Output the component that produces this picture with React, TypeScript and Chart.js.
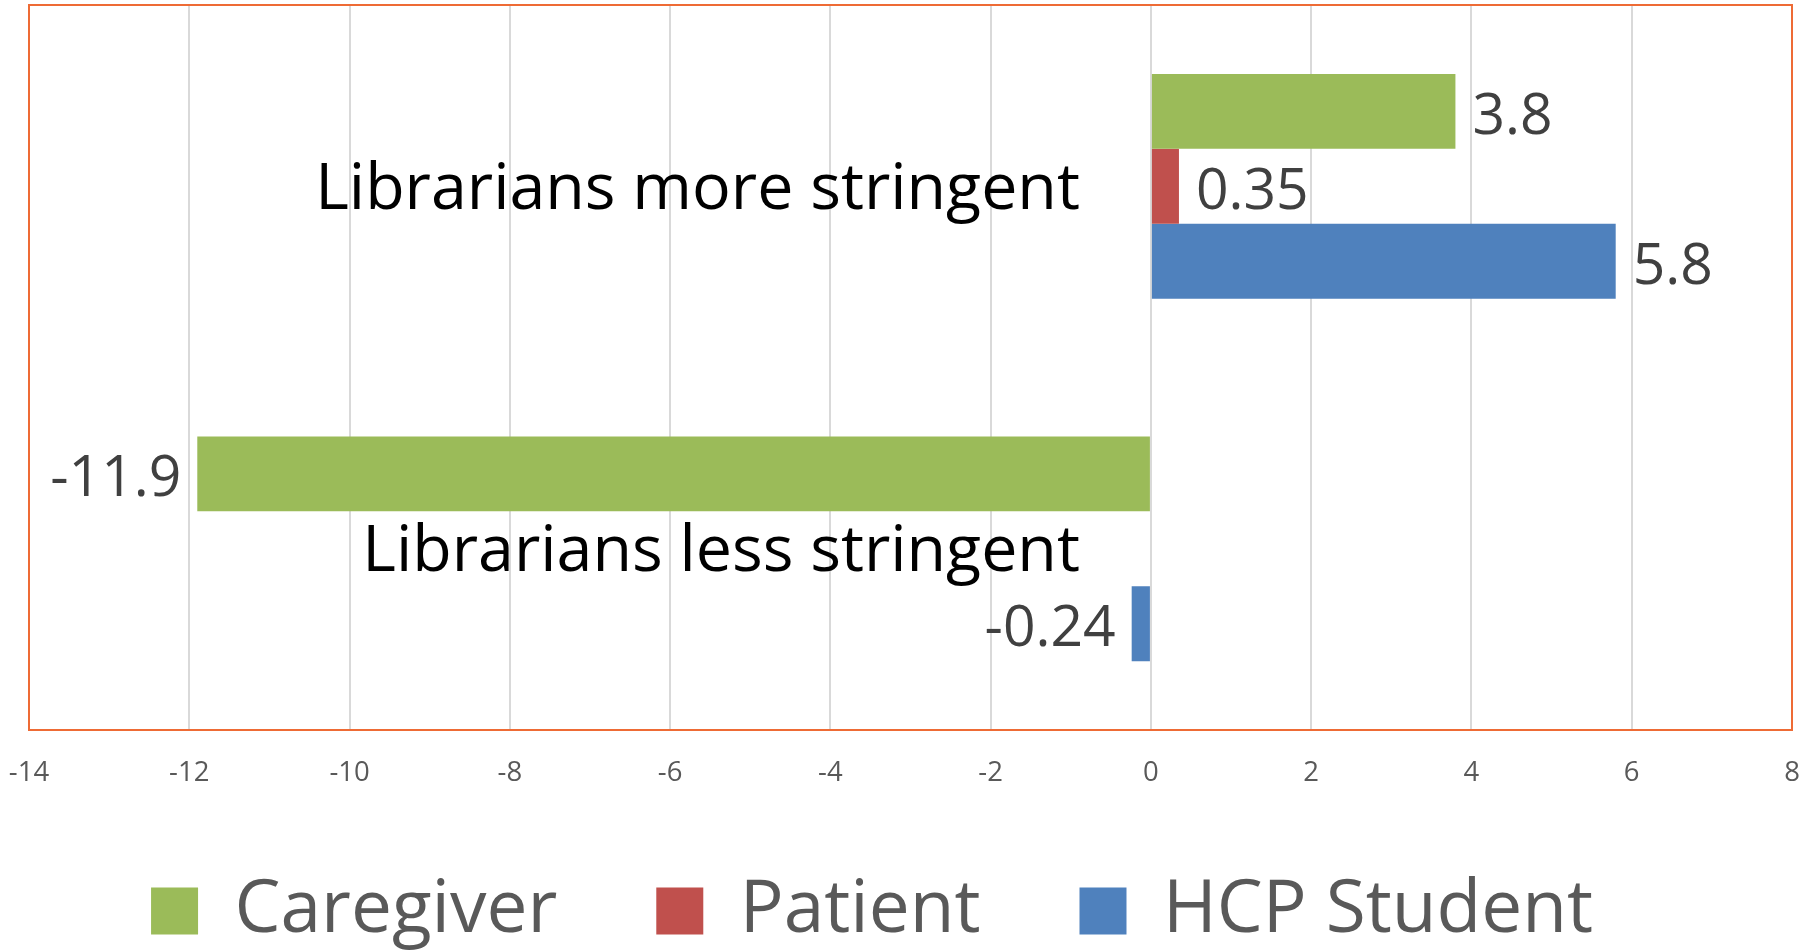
import React, { useEffect, useRef } from 'react';
import { Chart, registerables } from 'chart.js';

Chart.register(...registerables);

const categories = ['Librarians more stringent', 'Librarians less stringent'];
const seriesNames = ['Caregiver', 'Patient', 'HCP Student'];
const caregiverValues: (number | null)[] = [3.8, -11.9];
const patientValues: (number | null)[] = [0.35, null];
const hcpStudentValues: (number | null)[] = [5.8, -0.24];
const seriesColors = ['#9BBB59', '#C0504D', '#4F81BD'];
const xTickMin = -14;
const xTickMax = 8;
const xTickStep = 2;

const FONT = "'Open Sans', sans-serif";

const plotBorderPlugin = {
  id: 'plotBorder',
  beforeDatasetsDraw(chart: any) {
    const { ctx, chartArea } = chart;
    const { left, top, right, bottom } = chartArea;
    ctx.save();
    ctx.strokeStyle = '#EE6B35';
    ctx.lineWidth = 2;
    ctx.strokeRect(left, top, right - left, bottom - top);
    ctx.restore();
  },
};

const legendShiftPlugin = {
  id: 'legendShift',
  afterLayout(chart: any) {
    const lg = chart.legend;
    if (lg) {
      lg.left -= 24;
      lg.right -= 24;
    }
  },
};

const labelsPlugin = {
  id: 'customLabels',
  afterDatasetsDraw(chart: any) {
    const { ctx } = chart;
    const xScale = chart.scales.x;
    const yScale = chart.scales.y;
    ctx.save();
    // category labels next to the zero axis
    const catSize = 64.5;
    ctx.font = `${catSize}px ${FONT}`;
    ctx.fillStyle = '#000000';
    ctx.textAlign = 'right';
    ctx.textBaseline = 'alphabetic';
    const axisX = xScale.getPixelForValue(0);
    categories.forEach((c, i) => {
      const y = yScale.getPixelForValue(i);
      ctx.fillText(c, axisX - 71, y + 0.35 * catSize);
    });
    // data labels
    const valSize = 57;
    ctx.font = `${valSize}px ${FONT}`;
    ctx.fillStyle = '#404040';
    chart.data.datasets.forEach((ds: any, di: number) => {
      const meta = chart.getDatasetMeta(di);
      meta.data.forEach((bar: any, i: number) => {
        const v = ds.data[i];
        if (v === null || v === undefined) return;
        const by = bar.y + 2 + 0.357 * valSize;
        if (v >= 0) {
          ctx.textAlign = 'left';
          ctx.fillText(String(v), bar.x + 17, by);
        } else {
          ctx.textAlign = 'right';
          ctx.fillText(String(v), bar.x - 16, by);
        }
      });
    });
    ctx.restore();
  },
};

export default function App() {
  const canvasRef = useRef<HTMLCanvasElement | null>(null);

  useEffect(() => {
    document.body.style.margin = '0';
    const canvas = canvasRef.current;
    if (!canvas) return;
    const seriesValues = [caregiverValues, patientValues, hcpStudentValues];
    const chart = new Chart(canvas, {
      type: 'bar',
      data: {
        labels: categories,
        datasets: seriesNames.map((name, i) => ({
          label: name,
          data: seriesValues[i],
          backgroundColor: seriesColors[i],
          borderWidth: 0,
          barPercentage: 1,
          categoryPercentage: 0.62,
        })),
      },
      options: {
        indexAxis: 'y',
        responsive: false,
        animation: false,
        layout: { padding: { top: 5, left: 0, right: 22, bottom: 0 } },
        scales: {
          x: {
            type: 'linear',
            min: xTickMin,
            max: xTickMax,
            ticks: {
              stepSize: xTickStep,
              mirror: true,
              padding: -59.5,
              color: '#595959',
              font: { family: FONT, size: 27.5 },
            },
            grid: { color: '#D9D9D9', lineWidth: 2, drawTicks: false },
            border: { display: false },
            afterFit: (scale: any) => {
              scale.height = 45.5;
              scale.paddingLeft = 0;
              scale.paddingRight = 0;
            },
          },
          y: {
            type: 'category',
            ticks: { display: false },
            grid: { display: false, drawTicks: false },
            border: { display: false },
            afterFit: (scale: any) => {
              scale.width = 29;
            },
          },
        },
        plugins: {
          legend: {
            position: 'bottom',
            maxHeight: 174.5,
            labels: {
              boxWidth: 47,
              boxHeight: 47,
              padding: 99,
              color: '#595959',
              font: { family: FONT, size: 73 },
            },
          },
          tooltip: { enabled: false },
        },
      },
      plugins: [plotBorderPlugin, labelsPlugin, legendShiftPlugin],
    });
    return () => chart.destroy();
  }, []);

  return (
    <div style={{ width: 1814, height: 950 }}>
      <canvas ref={canvasRef} width={1814} height={950} style={{ display: 'block' }} />
    </div>
  );
}
